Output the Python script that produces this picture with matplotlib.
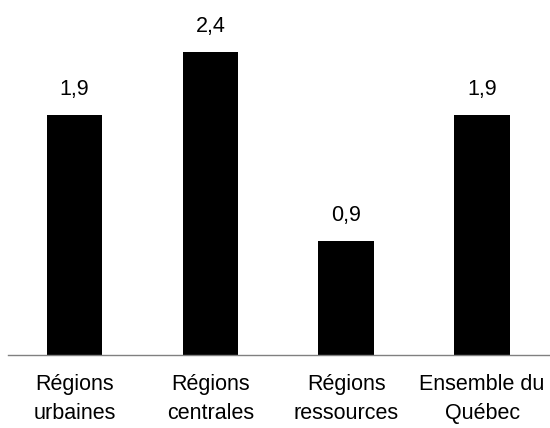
import matplotlib.pyplot as plt

# Données
categories = ['Régions\nurbaines', 'Régions\ncentrales', 'Régions\nressources', 'Ensemble du\nQuébec']
values = [1.9, 2.4, 0.9, 1.9]

plt.rcParams['font.family'] = ['Liberation Sans', 'DejaVu Sans']

fig = plt.figure(figsize=(5.5, 4.28), dpi=100)
ax = fig.add_axes([8 / 550, 73 / 428, 542 / 550, 355 / 428])

x = range(len(values))
ax.bar(x, values, width=0.41, color='black')

# Étiquettes de valeur au-dessus des barres
for i, v in enumerate(values):
    ax.annotate(f'{v:.1f}'.replace('.', ','), (i, v), xytext=(0, 11),
                textcoords='offset points', ha='center', va='bottom', fontsize=15.5)

ax.set_xlim(-0.49, 3.5)
ax.set_ylim(0, 2.81)
ax.set_xticks(list(x))
ax.set_xticklabels(categories, fontsize=15.5, linespacing=1.5)
ax.tick_params(axis='x', length=0, pad=14)
ax.set_yticks([])

for side in ['top', 'right', 'left']:
    ax.spines[side].set_visible(False)
ax.spines['bottom'].set_color('#808080')
ax.spines['bottom'].set_linewidth(1)

plt.savefig('out.png', dpi=100)
plt.close()
